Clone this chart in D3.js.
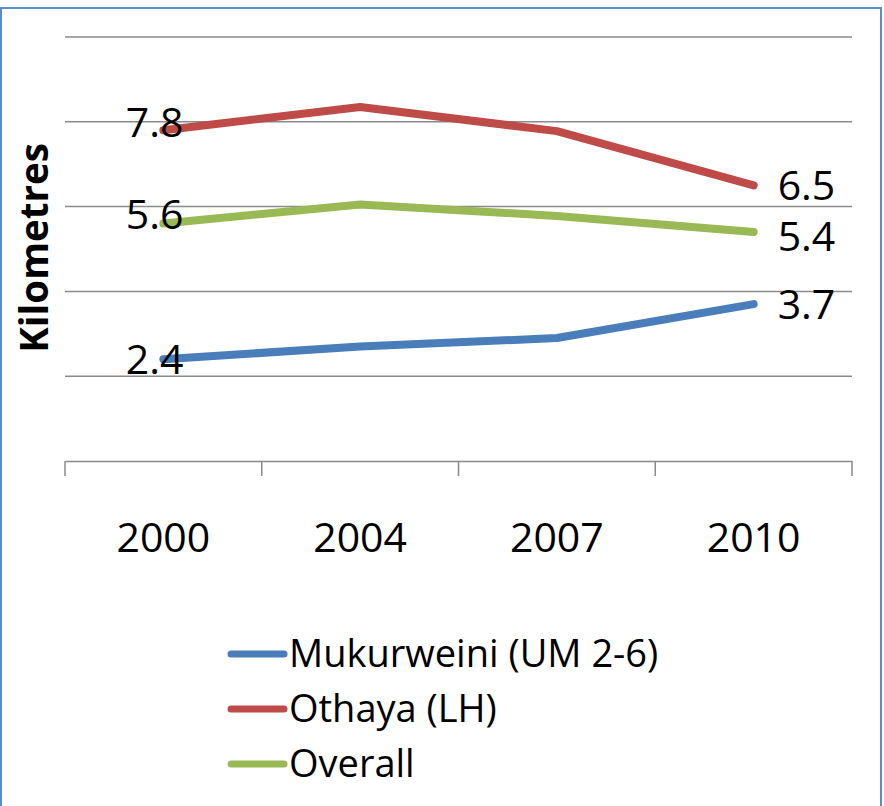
<!DOCTYPE html>
<html><head><meta charset="utf-8">
<script src="https://cdn.jsdelivr.net/npm/d3@7"></script>
<style>html,body{margin:0;padding:0;background:#fff;}svg{display:block;}</style>
</head><body>
<script>
const years = ["2000", "2004", "2007", "2010"];
const seriesNames = ["Mukurweini (UM 2-6)", "Othaya (LH)", "Overall"];
const mukurweini = [2.4, 2.7, 2.9, 3.7];
const othaya = [7.8, 8.35, 7.78, 6.5];
const overall = [5.6, 6.05, 5.78, 5.4];
const yTicks = [0, 2, 4, 6, 8, 10];
const colors = ["#4a7ebb", "#be4b48", "#98b954"];

const W = 884, H = 806;
const font = "'Open Sans', sans-serif";
const svg = d3.select("body").append("svg").attr("width", W).attr("height", H);

// frame
svg.append("rect").attr("x", 1).attr("y", 8).attr("width", 880).attr("height", 806)
  .attr("fill", "none").attr("stroke", "#5b8bc9").attr("stroke-width", 2);

const x = d3.scaleBand().domain(years).range([65, 852]);
const y = d3.scaleLinear().domain([0, 10]).range([461, 37]);

// gridlines
svg.append("g").selectAll("line").data(yTicks.slice(1)).join("line")
  .attr("x1", 65).attr("x2", 852)
  .attr("y1", d => y(d)).attr("y2", d => y(d))
  .attr("stroke", "#8a8a8a").attr("stroke-width", 1.5);

// x axis
const xAxis = svg.append("g").attr("transform", `translate(0,${y(0)})`)
  .call(d3.axisBottom(x).tickSize(0).tickPadding(0));
xAxis.select(".domain").attr("stroke", "#8a8a8a").attr("stroke-width", 1.5);
xAxis.selectAll(".tick text").remove();
const edges = years.map(d => x(d)).concat([x.range()[1]]);
xAxis.selectAll(".edge").data(edges).join("line").attr("class", "edge")
  .attr("x1", d => d).attr("x2", d => d).attr("y1", 0).attr("y2", 15)
  .attr("stroke", "#8a8a8a").attr("stroke-width", 1.5);
svg.append("g").selectAll("text").data(years).join("text")
  .attr("x", d => x(d) + x.bandwidth() / 2).attr("y", 552)
  .attr("text-anchor", "middle").attr("font-family", font).attr("font-size", 41)
  .attr("fill", "#000").text(d => d);

// y title
svg.append("text").attr("transform", "translate(48,248) rotate(-90)")
  .attr("text-anchor", "middle").attr("font-family", font).attr("font-weight", "bold")
  .attr("font-size", 38.5).attr("fill", "#000").text("Kilometres");

const data = [mukurweini, othaya, overall];
const cx = d => x(d) + x.bandwidth() / 2;
const line = d3.line().x((d, i) => cx(years[i])).y(d => y(d));
svg.append("g").selectAll("path").data(data).join("path")
  .attr("d", d => line(d)).attr("fill", "none")
  .attr("stroke", (d, i) => colors[i]).attr("stroke-width", 8)
  .attr("stroke-linecap", "round").attr("stroke-linejoin", "round");

// data labels (first and last)
const leftDy = [15, 7, 5];
const rightDy = [15, 15, 19];
const lbl = svg.append("g").attr("font-family", font).attr("font-size", 41).attr("fill", "#000");
data.forEach((s, i) => {
  lbl.append("text").attr("x", cx(years[0]) + 20).attr("y", y(s[0]) + leftDy[i])
    .attr("text-anchor", "end").text(s[0].toFixed(1));
  lbl.append("text").attr("x", cx(years[3]) + 24).attr("y", y(s[3]) + rightDy[i])
    .attr("text-anchor", "start").text(s[3].toFixed(1));
});

// legend
const leg = svg.append("g");
seriesNames.forEach((n, i) => {
  const cy = 654 + i * 55;
  leg.append("line").attr("x1", 231).attr("x2", 284).attr("y1", cy).attr("y2", cy)
    .attr("stroke", colors[i]).attr("stroke-width", 7).attr("stroke-linecap", "round");
  leg.append("text").attr("x", 289).attr("y", cy + 13).attr("font-family", font)
    .attr("font-size", 38).attr("fill", "#000").text(n);
});
</script>
</body></html>
